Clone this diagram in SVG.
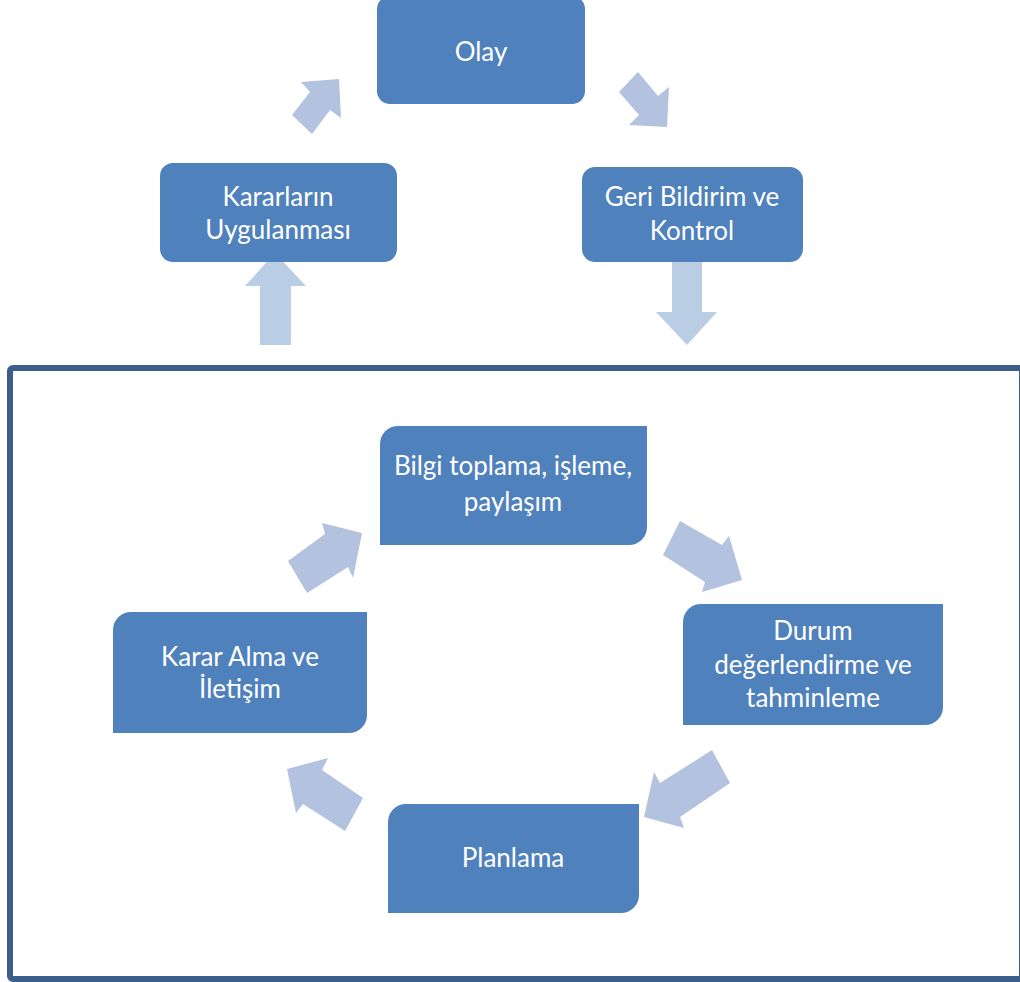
<svg xmlns="http://www.w3.org/2000/svg" width="1020" height="982" viewBox="0 0 1020 982">
  <style>
    .box { fill: #4F81BD; }
    .arrow { fill: #B3C2DE; }
    .varrow { fill: #B9CDE5; }
    .frame { fill: none; stroke: #3A5F8B; stroke-width: 6; }
    .label { font-family: Lato, "Open Sans", "Liberation Sans", sans-serif; font-size: 26px; fill: #FFFFFF; text-anchor: middle; }
  </style>
  <rect width="1020" height="982" fill="#FFFFFF"/>

  <!-- outer frame around the inner cycle -->
  <rect class="frame" x="10" y="368" width="1012" height="611" rx="3"/>

  <!-- connectors -->
  <g id="connectors">
    <polygon class="arrow" points="339,79 301,82 310,92 292,115 312,134 330,110 341,118"/>
    <polygon class="arrow" points="638,72 658,96 669,87 667,127 629,125 639,115 619,92"/>
    <polygon class="varrow" points="275,253 245,286 260,286 260,345 291,345 291,286 306,286"/>
    <polygon class="varrow" points="672,253 702,253 702,312 717,312 687,345 656,312 672,312"/>
    <polygon class="arrow" points="362,533 322,523 325,534 288,561 307,593 348,567 353,578"/>
    <polygon class="arrow" points="680,521 722,545 729,536 742,580 702,592 705,582 663,555"/>
    <polygon class="arrow" points="712,750 730,783 680,817 684,828 644,817 654,772 660,783"/>
    <polygon class="arrow" points="287,769 328,758 322,770 363,798 345,831 303,804 296,813"/>
  </g>

  <!-- outer cycle -->
  <g id="node-olay">
    <rect class="box" x="377" y="-4" width="208" height="108" rx="13"/>
    <text class="label" x="481" y="61">Olay</text>
  </g>
  <g id="node-geri-bildirim">
    <rect class="box" x="582" y="167" width="221" height="95" rx="13"/>
    <text class="label" x="692" y="206">Geri Bildirim ve</text>
    <text class="label" x="692" y="240">Kontrol</text>
  </g>
  <g id="node-kararlarin-uygulanmasi">
    <rect class="box" x="160" y="163" width="237" height="99" rx="13"/>
    <text class="label" x="278" y="206">Kararların</text>
    <text class="label" x="278" y="239">Uygulanması</text>
  </g>

  <!-- inner cycle (rounded diagonal corners) -->
  <g id="node-bilgi">
    <path class="box" d="M398,426 H647 V527 A18,18 0 0 1 629,545 H380 V444 A18,18 0 0 1 398,426 Z"/>
    <text class="label" x="513" y="475">Bilgi toplama, işleme,</text>
    <text class="label" x="513" y="511">paylaşım</text>
  </g>
  <g id="node-durum">
    <path class="box" d="M701,604 H943 V707 A18,18 0 0 1 925,725 H683 V622 A18,18 0 0 1 701,604 Z"/>
    <text class="label" x="813" y="640">Durum</text>
    <text class="label" x="813" y="674">değerlendirme ve</text>
    <text class="label" x="813" y="707">tahminleme</text>
  </g>
  <g id="node-planlama">
    <path class="box" d="M406,804 H639 V895 A18,18 0 0 1 621,913 H388 V822 A18,18 0 0 1 406,804 Z"/>
    <text class="label" x="513" y="867">Planlama</text>
  </g>
  <g id="node-karar-alma">
    <path class="box" d="M131,612 H367 V715 A18,18 0 0 1 349,733 H113 V630 A18,18 0 0 1 131,612 Z"/>
    <text class="label" x="240" y="666">Karar Alma ve</text>
    <text class="label" x="240" y="698">İletişim</text>
  </g>
</svg>
